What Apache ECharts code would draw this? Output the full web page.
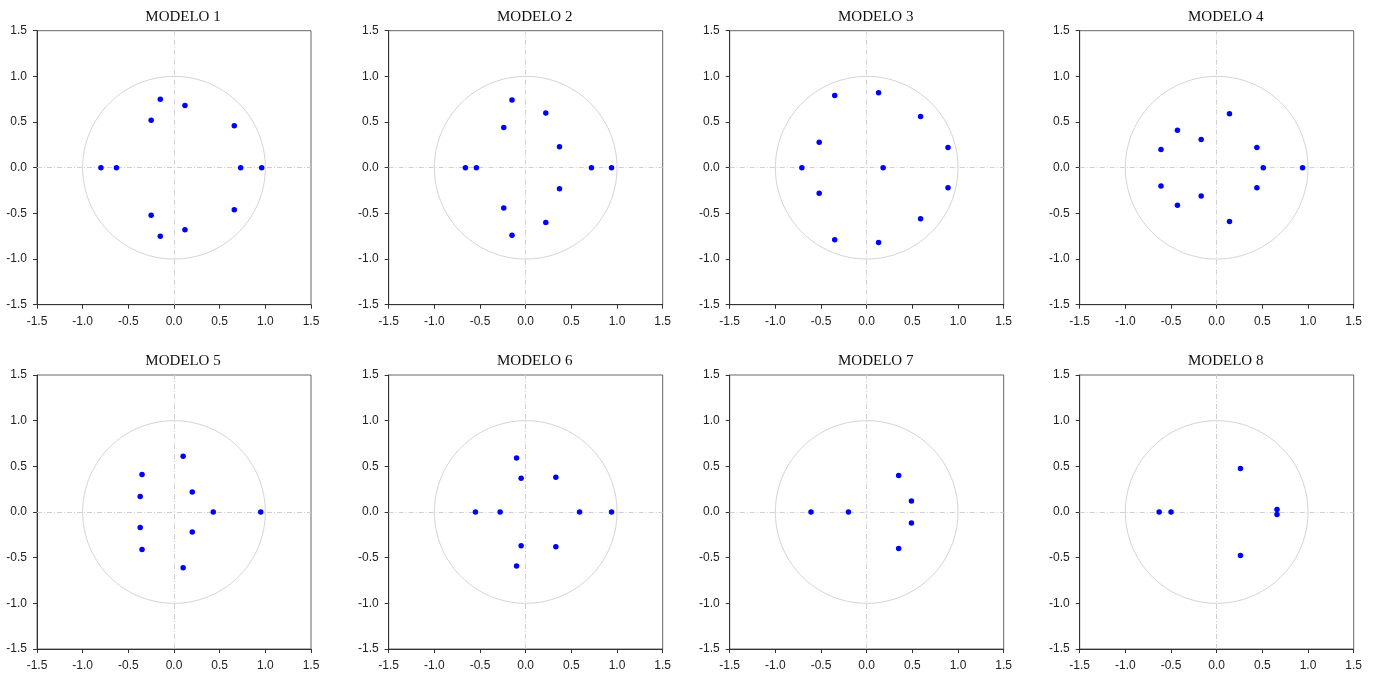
<!DOCTYPE html>
<html>
<head>
<meta charset="utf-8">
<script src="https://cdn.jsdelivr.net/npm/echarts@6/dist/echarts.min.js"></script>
<style>
html,body{margin:0;padding:0;background:#fff;}
#main{width:1384px;height:677px;}
</style>
</head>
<body>
<div id="main"></div>
<script>
var titles = ["MODELO 1","MODELO 2","MODELO 3","MODELO 4","MODELO 5","MODELO 6","MODELO 7","MODELO 8"];
var tickLabels = ["-1.5","-1.0","-0.5","0.0","0.5","1.0","1.5"];

var modelo1 = [[-0.80,0],[-0.63,0],[0.73,0],[0.96,0],
  [-0.15,0.75],[-0.15,-0.75],[0.12,0.68],[0.12,-0.68],
  [-0.25,0.52],[-0.25,-0.52],[0.66,0.46],[0.66,-0.46]];
var modelo2 = [[-0.66,0],[-0.54,0],[0.72,0],[0.94,0],
  [-0.15,0.74],[-0.15,-0.74],[0.22,0.60],[0.22,-0.60],
  [-0.24,0.44],[-0.24,-0.44],[0.37,0.23],[0.37,-0.23]];
var modelo3 = [[-0.71,0],[0.18,0],
  [-0.35,0.79],[-0.35,-0.79],[0.13,0.82],[0.13,-0.82],
  [0.59,0.56],[0.59,-0.56],[0.89,0.22],[0.89,-0.22],
  [-0.52,0.28],[-0.52,-0.28]];
var modelo4 = [[0.51,0],[0.94,0],
  [0.14,0.59],[0.14,-0.59],[0.44,0.22],[0.44,-0.22],
  [-0.17,0.31],[-0.17,-0.31],[-0.43,0.41],[-0.43,-0.41],
  [-0.61,0.20],[-0.61,-0.20]];
var modelo5 = [[0.43,0],[0.95,0],
  [0.10,0.61],[0.10,-0.61],[0.20,0.22],[0.20,-0.22],
  [-0.35,0.41],[-0.35,-0.41],[-0.37,0.17],[-0.37,-0.17]];
var modelo6 = [[-0.55,0],[-0.28,0],[0.59,0],[0.94,0],
  [-0.10,0.59],[-0.10,-0.59],[-0.05,0.37],[-0.05,-0.37],
  [0.33,0.38],[0.33,-0.38]];
var modelo7 = [[-0.61,0],[-0.20,0],
  [0.35,0.40],[0.35,-0.40],[0.49,0.12],[0.49,-0.12]];
var modelo8 = [[-0.63,0],[-0.50,0],
  [0.26,0.475],[0.26,-0.475],[0.66,0.027],[0.66,-0.027]];

var models = [modelo1,modelo2,modelo3,modelo4,modelo5,modelo6,modelo7,modelo8];

// unit circle reference
var circle = [];
for (var i = 0; i <= 360; i++) {
  var a = i * Math.PI / 180;
  circle.push([Math.cos(a), Math.sin(a)]);
}

var colLeft = [37, 388.7, 729.7, 1079.7];
var rowTop = [30.7, 375];
var W = 274, H = 274;

var grids = [], xAxes = [], yAxes = [], series = [], titleOpts = [];
for (var k = 0; k < 8; k++) {
  var c = k % 4, r = Math.floor(k / 4);
  grids.push({left: colLeft[c], top: rowTop[r], width: W, height: H,
    show: true, borderColor: '#666', borderWidth: 1});
  var axCommon = {
    gridIndex: k, type: 'value', min: -1.5, max: 1.5, interval: 0.5,
    axisLine: {show: true, onZero: false, lineStyle: {color: '#333', width: 1}},
    axisTick: {show: true, inside: false, length: 4, lineStyle: {color: '#333'}},
    splitLine: {show: false},
    axisLabel: {color: '#222', fontFamily: 'Liberation Sans, Arial, sans-serif', fontSize: 12,
      formatter: function (v) { return tickLabels[Math.round((v + 1.5) / 0.5)]; }}
  };
  xAxes.push(Object.assign({}, axCommon, {position: 'bottom', axisLabel: Object.assign({}, axCommon.axisLabel, {margin: 11})}));
  yAxes.push(Object.assign({}, axCommon, {position: 'left', axisLabel: Object.assign({}, axCommon.axisLabel, {margin: 10})}));
  titleOpts.push({text: titles[k], left: colLeft[c] + W / 2 + 4, top: rowTop[r] - 26, textAlign: 'center',
    textStyle: {fontFamily: 'Liberation Serif, Times New Roman, serif', fontWeight: 'normal', fontSize: 15, color: '#111'}});
  series.push({type: 'line', xAxisIndex: k, yAxisIndex: k, data: circle, showSymbol: false, symbol: 'none',
    lineStyle: {color: '#d4d4d4', width: 1}, silent: true, z: 1,
    markLine: {silent: true, symbol: ['none','none'], label: {show: false},
      lineStyle: {color: '#d0d0d0', type: [5, 2, 1, 2], width: 1},
      data: [{xAxis: 0}, {yAxis: 0}]}});
  series.push({type: 'scatter', xAxisIndex: k, yAxisIndex: k, data: models[k], symbol: 'circle', symbolSize: 5.5,
    itemStyle: {color: '#0000ff', opacity: 1}, zlevel: 1, z: 5});
}

var chart = echarts.init(document.getElementById('main'), null, {renderer: 'canvas'});
chart.setOption({animation: false, backgroundColor: '#fff', title: titleOpts, grid: grids,
  xAxis: xAxes, yAxis: yAxes, series: series});
</script>
</body>
</html>
